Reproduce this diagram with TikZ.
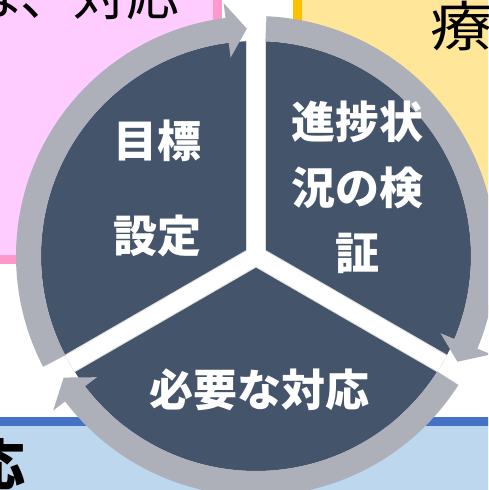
\documentclass[tikz,border=0pt]{standalone}
\usepackage{fontspec}
\newfontfamily\jpfont{Noto Sans CJK JP}
\newfontfamily\jpwide{Noto Sans CJK JP}[FakeStretch=1.15]
\definecolor{slate}{HTML}{44546A}
\definecolor{ringgrey}{HTML}{ADB0B8}
\definecolor{gapgrey}{HTML}{DCDCDC}
\definecolor{pinkfill}{HTML}{FFCCFF}
\definecolor{pinkline}{HTML}{FF99CC}
\definecolor{yelfill}{HTML}{FFE699}
\definecolor{yelline}{HTML}{FFC000}
\definecolor{bluefill}{HTML}{BDD7EE}
\definecolor{blueline}{HTML}{4472C4}
\tikzset{
  pinkbox/.style={fill=pinkfill,draw=pinkline,line width=9pt},
  yelbox/.style={fill=yelfill,draw=yelline,line width=9pt},
  bluebox/.style={fill=bluefill,draw=blueline,line width=9pt},
  bgtext/.style={inner sep=0pt,text=black,font=\jpfont\fontsize{53}{60}\selectfont},
  seclab/.style={inner sep=0pt,text=white,align=center,font=\jpfont\bfseries\fontsize{44}{65.5}\selectfont},
  ring/.style={fill=ringgrey},
  gapedge/.style={gapgrey,line width=20pt},
  gap/.style={white,line width=18pt},
}
\begin{document}
\begin{tikzpicture}[x=1pt,y=1pt]
  \useasboundingbox (0,0) rectangle (488,490);
  \clip (0,0) rectangle (488,490);
  % background boxes
  \draw[pinkbox] (-20,230.5) rectangle (217.5,520);
  \draw[yelbox] (297,180) rectangle (520,520);
  \draw[bluebox] (-20,-20) rectangle (520,68.5);
  \node[bgtext,anchor=base east] (tl) at (180,474) {は、対応};
  \node[bgtext,anchor=base west,font=\jpwide\fontsize{54}{60}\selectfont] (tr) at (430,443) {療};
  \node[bgtext,anchor=north east,font=\jpfont\bfseries\fontsize{55}{60}\selectfont] (bl) at (26,52) {応};
  % cycle
  \coordinate (ctr) at (256,234);
  \fill[slate] (ctr) circle (215);
  \foreach \a in {90,210,330} \draw[gapedge] (ctr) -- ++(\a:215);
  \foreach \a in {90,210,330} \draw[gap] (ctr) -- ++(\a:215);
  % arrow ring, one arc per step
  \foreach \g [evaluate=\g as \s using \g-2.5, evaluate=\g as \e using \g-117.7,
               evaluate=\g as \b using \g-112.7] in {210,90,-30}
    \fill[ring,shift={(ctr)}] (\s:240) arc[start angle=\s, end angle=\b, radius=240]
      -- (\b:255) -- (\e:227.5) -- (\b:200) -- (\b:215)
      arc[start angle=\b, end angle=\s, radius=215] -- cycle;
  \node[seclab,font=\jpfont\bfseries\fontsize{44}{95}\selectfont] (goal) at (157.5,301.5) {目標\\設定};
  \node[seclab] (check) at (357,302.5) {進捗状\\況の検\\証};
  \node[seclab] (act) at (259,100) {必要な対応};
\end{tikzpicture}
\end{document}
